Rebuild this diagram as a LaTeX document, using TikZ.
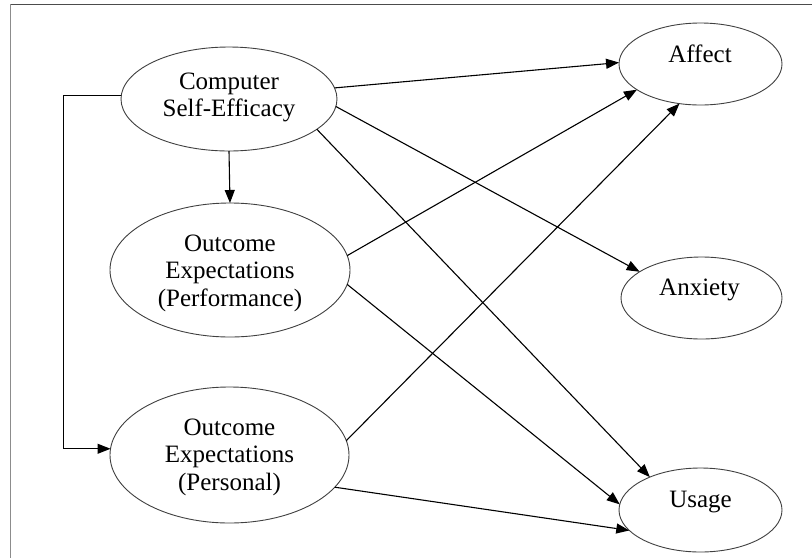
\documentclass[tikz,border=0pt]{standalone}
\usepackage{fontspec}
\setmainfont{Liberation Serif}
\usetikzlibrary{shapes.geometric,arrows.meta}
\begin{document}
\begin{tikzpicture}[x=1pt,y=-1pt,
  oval/.style={draw=black!75, line width=0.9pt, ellipse, inner sep=0pt, outer sep=0pt},
  lbl/.style={font=\fontsize{25pt}{27.5pt}\selectfont, align=center, inner sep=0pt},
  arr/.style={line width=1.1pt, -{Triangle[length=13pt,width=10pt]}}
]
\useasboundingbox (0,0) rectangle (812,558);
\fill[white] (0,0) rectangle (812,558);
% frame
\draw[black!70, line width=1.4pt] (10,4.5) -- (812,4.5);
\draw[black!45, line width=1.4pt] (10.5,4) -- (10.5,558);

% ellipses
\node[oval, minimum width=216pt, minimum height=104pt] (cse) at (229,99) {};
\node[oval, minimum width=163pt, minimum height=82pt] (affect) at (700.5,64) {};
\node[oval, minimum width=240pt, minimum height=134pt] (perf) at (230,270) {};
\node[oval, minimum width=239pt, minimum height=136pt] (pers) at (229.5,455) {};
\node[oval, minimum width=161pt, minimum height=82pt] (anx) at (701.5,298) {};
\node[oval, minimum width=163pt, minimum height=84pt] (usage) at (700.5,510) {};

% texts
\node[lbl] (cseT) at (229,97.5) {Computer\\Self-Efficacy};
\node[lbl] (perfT) at (230,273) {Outcome\\Expectations\\(Performance)};
\node[lbl] (persT) at (229.5,457) {Outcome\\Expectations\\(Personal)};
\node[lbl, anchor=base] (affT) at (700,62) {Affect};
\node[lbl, anchor=base] (anxT) at (699.5,295) {Anxiety};
\node[lbl, anchor=base] (useT) at (700.5,507) {Usage};

% connectors
\draw[arr] (cse.6) -- (affect.179);
\draw[arr] (cse.-4) -- (anx.157);
\draw[arr] (cse.-19) -- (usage.147);
\draw[arr] (cse.south) -- (perf.north);
\draw[arr] (cse.178) -- ++(-58,0) |- (pers.177);
\draw[arr] (perf.7) -- (affect.202);
\draw[arr] (perf.-7) -- (usage.176);
\draw[arr] (pers.7) -- (affect.242);
\draw[arr] (pers.-17) -- (usage.196);
\end{tikzpicture}
\end{document}
